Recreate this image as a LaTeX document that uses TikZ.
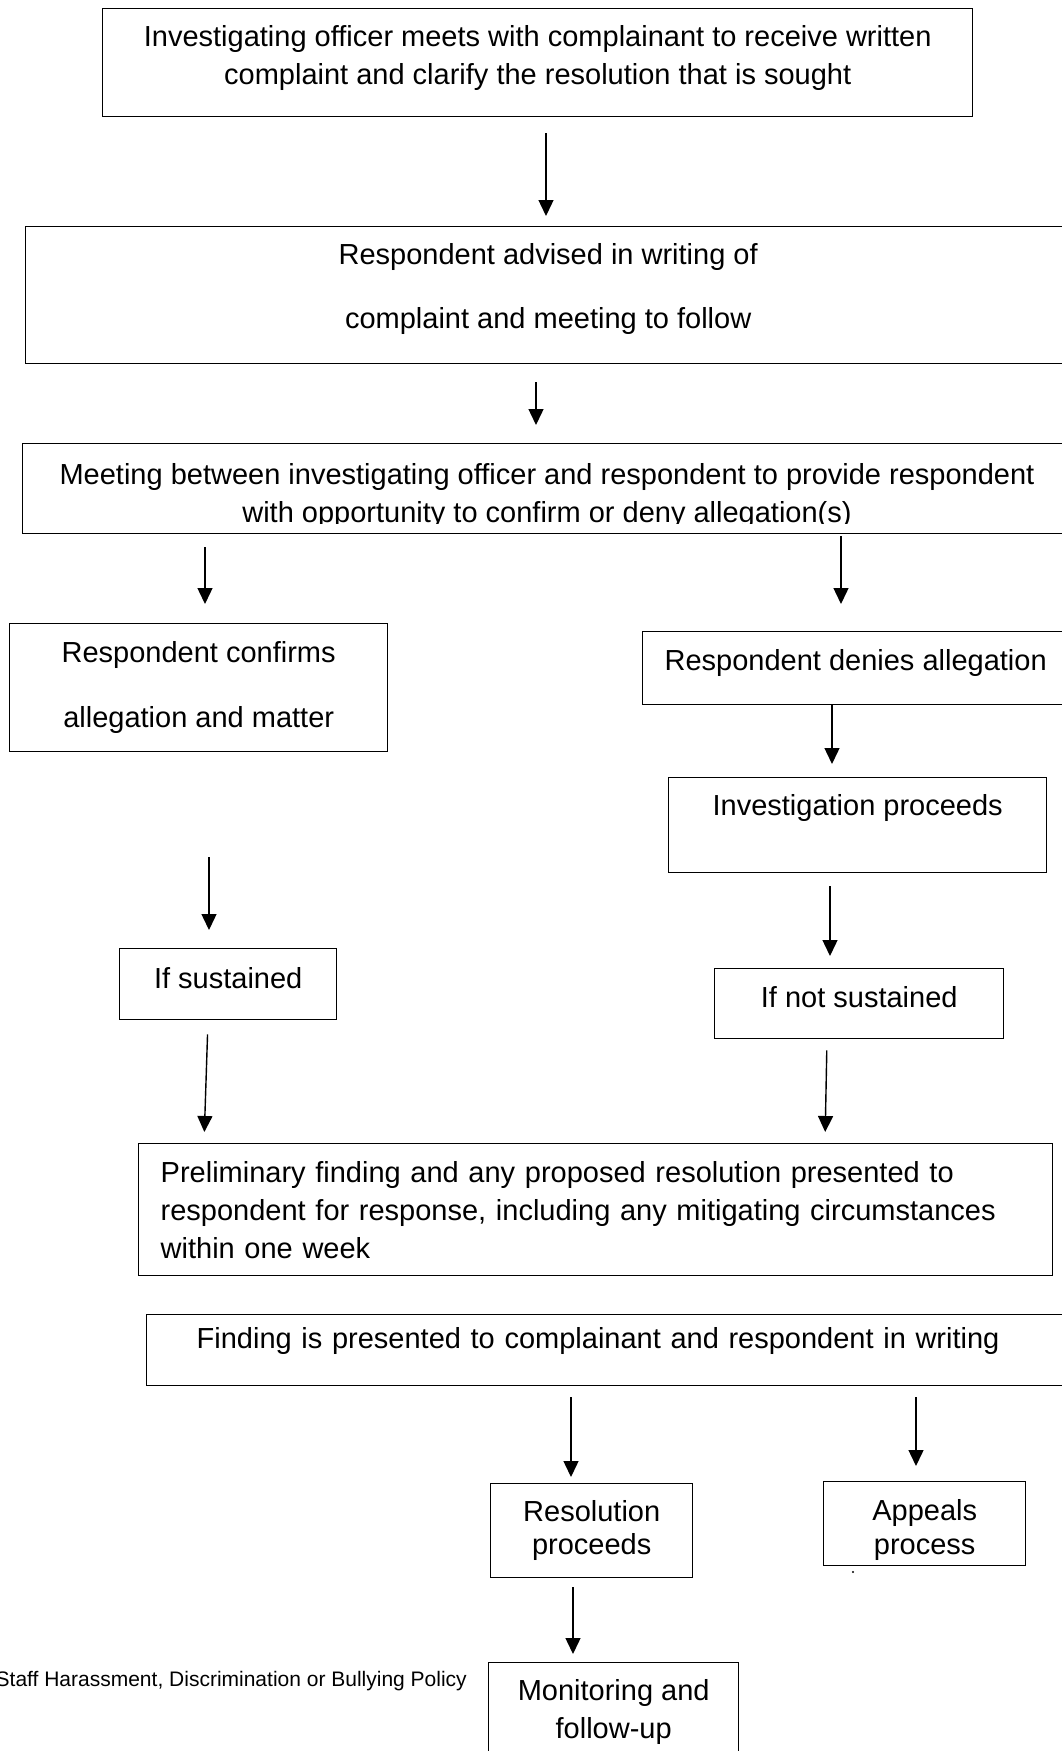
\documentclass[tikz,border=0pt]{standalone}
\usepackage{fontspec}
\setmainfont{Liberation Sans}
\usetikzlibrary{arrows.meta}
\begin{document}
\begin{tikzpicture}[x=1pt,y=-1pt,>={Triangle[length=16pt,width=15pt]},
    box/.style={draw,line width=1.4pt,inner sep=0pt,anchor=north west,align=center,font=\fontsize{29}{38}\selectfont},
    arr/.style={->,line width=1.4pt}]
        \useasboundingbox (0,0) rectangle (1062,1751);
        \clip (0,0) rectangle (1062,1751);
        \node[box,minimum width=870,minimum height=108,text depth=15pt] (b1) at (102,8) {Investigating officer meets with complainant to receive written\\complaint and clarify the resolution that is sought};
        \node[box,minimum width=1045,minimum height=137,text depth=19pt] (b2) at (25,226) {Respondent advised in writing of\\[26pt]complaint and meeting to follow};
        \node[box,minimum width=1048,minimum height=90] (b3) at (22,443) {};
        \begin{scope}
            \clip (22,443) rectangle (1070,523);
            \node[box,draw=none,anchor=center] (b3txt) at (547,496) {Meeting between investigating officer and respondent to provide respondent\\with opportunity to confirm or deny allegation(s)};
        \end{scope}
        \node[box,minimum width=378,minimum height=128] (b4) at (9,623) {Respondent confirms\\[27pt]allegation and matter};
        \node[box,minimum width=426,minimum height=73,text depth=16pt] (b5) at (642,631) {Respondent denies allegation};
        \node[box,minimum width=378,minimum height=95,text depth=41pt] (b6) at (668,777) {Investigation proceeds};
        \node[box,minimum width=217,minimum height=71,text depth=12pt] (b7) at (119,948) {If sustained};
        \node[box,minimum width=289,minimum height=70,text depth=13pt] (b8) at (714,968) {If not sustained};
        \node[box,minimum height=132,inner xsep=22pt,text width=870pt,align=left] (b9) at (138,1143) {Preliminary finding and any proposed resolution presented to\\respondent for response, including any mitigating circumstances\\within one week};
        \node[box,minimum height=71,inner xsep=50pt,text width=829pt,align=left,text depth=24pt] (b10) at (146,1314) {Finding is presented to complainant and respondent in writing};
        \node[box,minimum width=202,minimum height=94] (b11) at (490,1483) {Resolution\\[-5pt]proceeds};
        \node[box,minimum width=202,minimum height=84] (b12) at (823,1481) {\rule{0pt}{33pt}Appeals\\[-4pt]process};
        \node[box,minimum width=250,minimum height=98] (b13) at (488,1662) {Monitoring and\\follow-up};
        \node[font=\fontsize{21}{25}\selectfont,inner sep=0pt,anchor=east] (footer) at (467,1681) {Staff Harassment, Discrimination or Bullying Policy};
        \fill (853,1572) circle (1.2pt);
        \draw[arr,shorten <=16pt,shorten >=10pt] (b1.south -| 546,0) -- (b2.north -| 546,0);
        \draw[arr,shorten <=18pt,shorten >=18pt] (b2.south -| 536,0) -- (b3.north -| 536,0);
        \draw[arr,shorten <=13pt,shorten >=19pt] (b3.south -| 205,0) -- (b4.north -| 205,0);
        \draw[arr,shorten <=2pt,shorten >=27pt] (b3.south -| 841,0) -- (b5.north -| 841,0);
        \draw[arr,shorten >=13pt] (b5.south -| 832,0) -- (b6.north -| 832,0);
        \draw[arr,shorten <=105pt,shorten >=18pt] (b4.south -| 209,0) -- (b7.north -| 209,0);
        \draw[arr,shorten <=13pt,shorten >=12pt] (b6.south -| 830,0) -- (b8.north -| 830,0);
        \draw[arr,shorten <=14pt,shorten >=11pt] (b7.south -| 208,0) -- (b9.north -| 204,0);
        \draw[arr,shorten <=11pt,shorten >=11pt] (b8.south -| 827,0) -- (b9.north -| 825,0);
        \draw[arr,shorten <=11pt,shorten >=6pt] (b10.south -| 571,0) -- (b11.north -| 571,0);
        \draw[arr,shorten <=11pt,shorten >=15pt] (b10.south -| 916,0) -- (b12.north -| 916,0);
        \draw[arr,shorten <=9pt,shorten >=8pt] (b11.south -| 573,0) -- (b13.north -| 573,0);
    \end{tikzpicture}
\end{document}
